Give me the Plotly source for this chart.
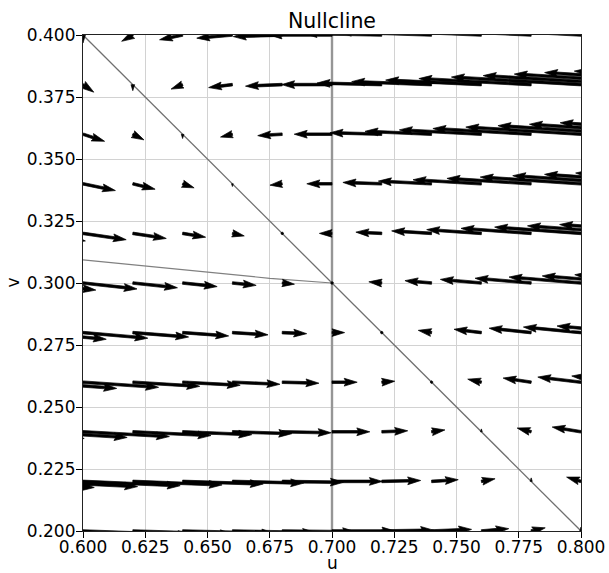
import math
import plotly.graph_objects as go

# ---------------------------------------------------------------
# Phase-plane vector field sampled on a regular (u, v) grid.
# Columns of each row follow u_grid, rows follow v_grid.
# ---------------------------------------------------------------
u_grid = [0.56, 0.58, 0.60, 0.62, 0.64, 0.66, 0.68, 0.70, 0.72,
          0.74, 0.76, 0.78, 0.80, 0.82, 0.84, 0.86, 0.88]
v_grid = [0.20, 0.22, 0.24, 0.26, 0.28, 0.30, 0.32, 0.34, 0.36, 0.38, 0.40]

# du/dt at each grid node (row per v value)
du_dt = [
    [0.1344, 0.1276, 0.1200, 0.1116, 0.1024, 0.0924, 0.0816, 0.0700, 0.0576, 0.0444, 0.0304, 0.0156, 0.0000, -0.0164, -0.0336, -0.0516, -0.0704],
    [0.1232, 0.1160, 0.1080, 0.0992, 0.0896, 0.0792, 0.0680, 0.0560, 0.0432, 0.0296, 0.0152, 0.0000, -0.0160, -0.0328, -0.0504, -0.0688, -0.0880],
    [0.1120, 0.1044, 0.0960, 0.0868, 0.0768, 0.0660, 0.0544, 0.0420, 0.0288, 0.0148, 0.0000, -0.0156, -0.0320, -0.0492, -0.0672, -0.0860, -0.1056],
    [0.1008, 0.0928, 0.0840, 0.0744, 0.0640, 0.0528, 0.0408, 0.0280, 0.0144, 0.0000, -0.0152, -0.0312, -0.0480, -0.0656, -0.0840, -0.1032, -0.1232],
    [0.0896, 0.0812, 0.0720, 0.0620, 0.0512, 0.0396, 0.0272, 0.0140, 0.0000, -0.0148, -0.0304, -0.0468, -0.0640, -0.0820, -0.1008, -0.1204, -0.1408],
    [0.0784, 0.0696, 0.0600, 0.0496, 0.0384, 0.0264, 0.0136, 0.0000, -0.0144, -0.0296, -0.0456, -0.0624, -0.0800, -0.0984, -0.1176, -0.1376, -0.1584],
    [0.0672, 0.0580, 0.0480, 0.0372, 0.0256, 0.0132, 0.0000, -0.0140, -0.0288, -0.0444, -0.0608, -0.0780, -0.0960, -0.1148, -0.1344, -0.1548, -0.1760],
    [0.0560, 0.0464, 0.0360, 0.0248, 0.0128, 0.0000, -0.0136, -0.0280, -0.0432, -0.0592, -0.0760, -0.0936, -0.1120, -0.1312, -0.1512, -0.1720, -0.1936],
    [0.0448, 0.0348, 0.0240, 0.0124, 0.0000, -0.0132, -0.0272, -0.0420, -0.0576, -0.0740, -0.0912, -0.1092, -0.1280, -0.1476, -0.1680, -0.1892, -0.2112],
    [0.0336, 0.0232, 0.0120, 0.0000, -0.0128, -0.0264, -0.0408, -0.0560, -0.0720, -0.0888, -0.1064, -0.1248, -0.1440, -0.1640, -0.1848, -0.2064, -0.2288],
    [0.0224, 0.0116, 0.0000, -0.0124, -0.0256, -0.0396, -0.0544, -0.0700, -0.0864, -0.1036, -0.1216, -0.1404, -0.1600, -0.1804, -0.2016, -0.2236, -0.2464],
]

# dv/dt at each grid node (row per v value)
dv_dt = [
    [-0.0062, -0.0053, -0.0044, -0.0035, -0.0026, -0.0018, -0.0009, 0.0, 0.0009, 0.0018, 0.0026, 0.0035, 0.0044, 0.0053, 0.0062, 0.0070, 0.0079],
    [-0.0068, -0.0058, -0.0048, -0.0039, -0.0029, -0.0019, -0.0010, 0.0, 0.0010, 0.0019, 0.0029, 0.0039, 0.0048, 0.0058, 0.0068, 0.0077, 0.0087],
    [-0.0074, -0.0063, -0.0053, -0.0042, -0.0032, -0.0021, -0.0011, 0.0, 0.0011, 0.0021, 0.0032, 0.0042, 0.0053, 0.0063, 0.0074, 0.0084, 0.0095],
    [-0.0080, -0.0069, -0.0057, -0.0046, -0.0034, -0.0023, -0.0011, 0.0, 0.0011, 0.0023, 0.0034, 0.0046, 0.0057, 0.0069, 0.0080, 0.0092, 0.0103],
    [-0.0086, -0.0074, -0.0062, -0.0049, -0.0037, -0.0025, -0.0012, 0.0, 0.0012, 0.0025, 0.0037, 0.0049, 0.0062, 0.0074, 0.0086, 0.0099, 0.0111],
    [-0.0092, -0.0079, -0.0066, -0.0053, -0.0040, -0.0026, -0.0013, 0.0, 0.0013, 0.0026, 0.0040, 0.0053, 0.0066, 0.0079, 0.0092, 0.0106, 0.0119],
    [-0.0099, -0.0084, -0.0070, -0.0056, -0.0042, -0.0028, -0.0014, 0.0, 0.0014, 0.0028, 0.0042, 0.0056, 0.0070, 0.0084, 0.0099, 0.0113, 0.0127],
    [-0.0105, -0.0090, -0.0075, -0.0060, -0.0045, -0.0030, -0.0015, 0.0, 0.0015, 0.0030, 0.0045, 0.0060, 0.0075, 0.0090, 0.0105, 0.0120, 0.0135],
    [-0.0111, -0.0095, -0.0079, -0.0063, -0.0048, -0.0032, -0.0016, 0.0, 0.0016, 0.0032, 0.0048, 0.0063, 0.0079, 0.0095, 0.0111, 0.0127, 0.0143],
    [-0.0117, -0.0100, -0.0084, -0.0067, -0.0050, -0.0033, -0.0017, 0.0, 0.0017, 0.0033, 0.0050, 0.0067, 0.0084, 0.0100, 0.0117, 0.0134, 0.0150],
    [-0.0123, -0.0106, -0.0088, -0.0070, -0.0053, -0.0035, -0.0018, 0.0, 0.0018, 0.0035, 0.0053, 0.0070, 0.0088, 0.0106, 0.0123, 0.0141, 0.0158],
]

# Nullclines and the separating curve
diag_u = [0.60, 0.80]
diag_v = [0.40, 0.20]
vert_u = [0.70, 0.70]
vert_v = [0.20, 0.40]
curve_u = [0.600, 0.625, 0.650, 0.675, 0.700]
curve_v = [0.3093, 0.3068, 0.3042, 0.3019, 0.3000]

u_ticks = [0.600, 0.625, 0.650, 0.675, 0.700, 0.725, 0.750, 0.775, 0.800]
v_ticks = [0.200, 0.225, 0.250, 0.275, 0.300, 0.325, 0.350, 0.375, 0.400]
u_range = [0.6, 0.8]
v_range = [0.2, 0.4]

# ---------------------------------------------------------------
# Figure geometry
# ---------------------------------------------------------------
W_FIG, H_FIG = 609, 573
M_L, M_R, M_T, M_B = 83, 28, 35, 42
plot_w = W_FIG - M_L - M_R
plot_h = H_FIG - M_T - M_B
sx = plot_w / (u_range[1] - u_range[0])   # px per u unit
sy = plot_h / (v_range[1] - v_range[0])   # px per v unit

# Quiver styling (arrow length in px per unit of rate, shaft width in px)
PX_PER_RATE = 900.0
SHAFT = 2.6
HEAD_LEN, HEAD_AXIS_LEN, HEAD_WIDTH = 5.0, 4.5, 3.0
MIN_SHAFT, MIN_LEN = 1.0, 1.0


def arrow_polygon(u0, v0, ru, rv):
    """Filled arrow outline (tail pivot), returned in data coordinates."""
    lx, ly = ru * PX_PER_RATE, rv * PX_PER_RATE
    length = math.hypot(lx, ly) / SHAFT
    theta = math.atan2(ly, lx)
    minsh = MIN_SHAFT * HEAD_LEN
    ys = [0.5, 0.5, 0.5 * HEAD_WIDTH, 0.0, -0.5 * HEAD_WIDTH, -0.5, -0.5, 0.5]
    if length < MIN_LEN:
        xs, ys = [], []
        for k in range(8):
            a = k * math.pi / 3.0
            xs.append(math.cos(a) * MIN_LEN * 0.5)
            ys.append(math.sin(a) * MIN_LEN * 0.5)
    elif length < minsh:
        s = length / minsh
        xs = [0, minsh - HEAD_AXIS_LEN, minsh - HEAD_LEN, minsh,
              minsh - HEAD_LEN, minsh - HEAD_AXIS_LEN, 0, 0]
        xs = [s * x for x in xs]
        ys = [s * y for y in ys]
    else:
        xs = [0, length - HEAD_AXIS_LEN, length - HEAD_LEN, length,
              length - HEAD_LEN, length - HEAD_AXIS_LEN, 0, 0]
    c, sn = math.cos(theta), math.sin(theta)
    pu, pv = [], []
    for x, y in zip(xs, ys):
        px = (x * c - y * sn) * SHAFT
        py = (x * sn + y * c) * SHAFT
        pu.append(u0 + px / sx)
        pv.append(v0 + py / sy)
    return pu, pv


qu, qv = [], []
for i, v0 in enumerate(v_grid):
    for j, u0 in enumerate(u_grid):
        pu, pv = arrow_polygon(u0, v0, du_dt[i][j], dv_dt[i][j])
        qu += pu + [None]
        qv += pv + [None]

fig = go.Figure()

fig.add_trace(go.Scatter(x=vert_u, y=vert_v, mode="lines",
                         line=dict(color="#969696", width=2.4),
                         hoverinfo="skip", showlegend=False))
fig.add_trace(go.Scatter(x=diag_u, y=diag_v, mode="lines",
                         line=dict(color="#707070", width=1.3),
                         hoverinfo="skip", showlegend=False))
fig.add_trace(go.Scatter(x=curve_u, y=curve_v, mode="lines",
                         line=dict(color="#808080", width=1.2),
                         hoverinfo="skip", showlegend=False))
fig.add_trace(go.Scatter(x=qu, y=qv, mode="lines", fill="toself",
                         fillcolor="black",
                         line=dict(color="black", width=0.7),
                         hoverinfo="skip", showlegend=False))

FONT = "DejaVu Sans"
axis_common = dict(
    ticks="outside", ticklen=6, tickwidth=1.2, tickcolor="black",
    showline=True, linecolor="#222222", linewidth=1.2, mirror=True,
    showgrid=True, gridcolor="#d2d2d2", gridwidth=1,
    zeroline=False, tickformat=".3f", automargin=False,
    tickfont=dict(family=FONT, size=17, color="black"),
)

fig.update_layout(
    width=W_FIG, height=H_FIG,
    margin=dict(l=M_L, r=M_R, t=M_T, b=M_B, pad=0, autoexpand=False),
    paper_bgcolor="white", plot_bgcolor="white",
    title=dict(text="Nullcline", x=0.5, xref="paper", xanchor="center",
               y=1 - 21 / H_FIG, yref="container", yanchor="middle",
               font=dict(family=FONT, size=20.5, color="black"),
               automargin=False),
    xaxis=dict(range=u_range, tickvals=u_ticks, ticklabelstandoff=-6,
               **axis_common),
    yaxis=dict(range=v_range, tickvals=v_ticks, ticklabelstandoff=-3,
               **axis_common),
    annotations=[
        dict(text="u", xref="paper", yref="paper", x=0.5,
             y=-(563 - (M_T + plot_h)) / plot_h, xanchor="center",
             yanchor="middle", showarrow=False,
             font=dict(family=FONT, size=17, color="black")),
        dict(text="v", xref="paper", yref="paper", x=(12.5 - M_L) / plot_w,
             y=0.5, xanchor="center", yanchor="middle", textangle=-90,
             showarrow=False, font=dict(family=FONT, size=17, color="black")),
    ],
)

fig.write_html("out.html")
